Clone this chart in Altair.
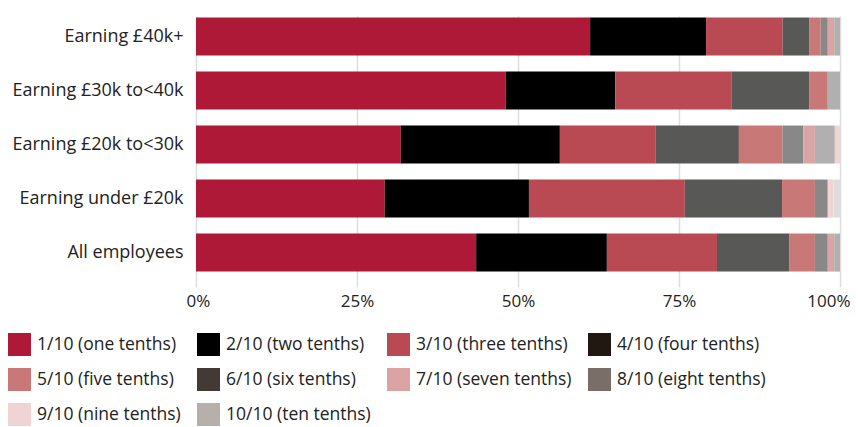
import altair as alt
import pandas as pd

groups = ["Earning £40k+", "Earning £30k to<40k", "Earning £20k to<30k",
          "Earning under £20k", "All employees"]
levels = ["1/10 (one tenths)", "2/10 (two tenths)", "3/10 (three tenths)",
          "4/10 (four tenths)", "5/10 (five tenths)", "6/10 (six tenths)",
          "7/10 (seven tenths)", "8/10 (eight tenths)", "9/10 (nine tenths)",
          "10/10 (ten tenths)"]

# share of employees (%) per level, one list per group
earning_40k_plus = [61.2, 18.0, 11.9, 4.1, 1.8, 1.1, 1.0, 0.9, 0.0, 0.0]
earning_30k_40k = [48.1, 17.0, 18.1, 12.0, 2.9, 0.0, 0.0, 1.9, 0.0, 0.0]
earning_20k_30k = [31.8, 24.7, 14.9, 12.9, 6.8, 3.2, 1.8, 3.1, 0.8, 0.0]
earning_under_20k = [29.3, 22.4, 24.2, 15.1, 5.1, 2.0, 0.0, 0.0, 0.9, 1.0]
all_employees = [43.5, 20.3, 17.1, 11.2, 4.0, 2.0, 1.0, 0.9, 0.0, 0.0]

bar_colors = ["#ad1937", "#000000", "#b94a53", "#585856", "#c87877",
              "#888888", "#d9a4a3", "#b0b0b0", "#f0d4d4", "#dddddd"]
legend_colors = ["#ad1937", "#000000", "#b94a53", "#211812", "#c87877",
                 "#433a35", "#d9a4a3", "#7a6e69", "#f0d4d4", "#b6afac"]

series = [earning_40k_plus, earning_30k_40k, earning_20k_30k,
          earning_under_20k, all_employees]
rows = []
for g, vals in zip(groups, series):
    for i, (lvl, v) in enumerate(zip(levels, vals)):
        rows.append({"group": g, "level": lvl, "key": lvl, "idx": i, "value": v})
df = pd.DataFrame(rows)

FONT = "Open Sans"
TXT = "#222222"
EXT = 188

y_enc = alt.Y("group:N", sort=groups,
              scale=alt.Scale(paddingInner=0.296, paddingOuter=0.157, align=0.09),
              axis=alt.Axis(title=None, ticks=False, domain=False, grid=False,
                            labelFontSize=18, labelFont=FONT, labelColor=TXT,
                            labelPadding=13, minExtent=EXT, maxExtent=EXT,
                            labelLimit=300))
x_enc = alt.X("value:Q", stack="normalize",
              scale=alt.Scale(domain=[0, 1], nice=False),
              axis=alt.Axis(title=None, format="%", values=[0, 0.25, 0.5, 0.75, 1],
                            ticks=False, domain=False, grid=True,
                            labelFlush=True, labelFlushOffset=10,
                            gridColor="#dddddd", gridWidth=1.5,
                            labelFontSize=17, labelFont=FONT, labelColor=TXT,
                            labelPadding=6))

bars = alt.Chart(df).mark_bar().encode(
    y=y_enc,
    x=x_enc,
    fill=alt.Fill("level:N", sort=levels,
                  scale=alt.Scale(domain=levels, range=bar_colors), legend=None),
    order=alt.Order("idx:Q"),
)

legend_layer = alt.Chart(df).mark_bar(opacity=0).encode(
    y=alt.Y("group:N", sort=groups),
    x=alt.X("value:Q", stack="normalize"),
    color=alt.Color("key:N", sort=levels,
                    scale=alt.Scale(domain=levels, range=legend_colors),
                    legend=alt.Legend(title=None, orient="none", legendX=-EXT, legendY=317,
                                      direction="horizontal",
                                      columns=4, symbolType="square", symbolSize=529,
                                      symbolStrokeWidth=0, symbolOpacity=1,
                                      labelFontSize=17.5, labelFont=FONT, labelColor=TXT,
                                      labelOffset=6, columnPadding=16, rowPadding=12,
                                      labelLimit=300)),
    order=alt.Order("idx:Q"),
)

chart = alt.layer(bars, legend_layer).resolve_legend(color="independent").properties(
    width=644, height=271,
    padding={"left": 0, "top": 8, "right": 0, "bottom": 0},
).configure_view(stroke=None)

chart.save("out.html", embed_options={"renderer": "svg", "actions": False})
